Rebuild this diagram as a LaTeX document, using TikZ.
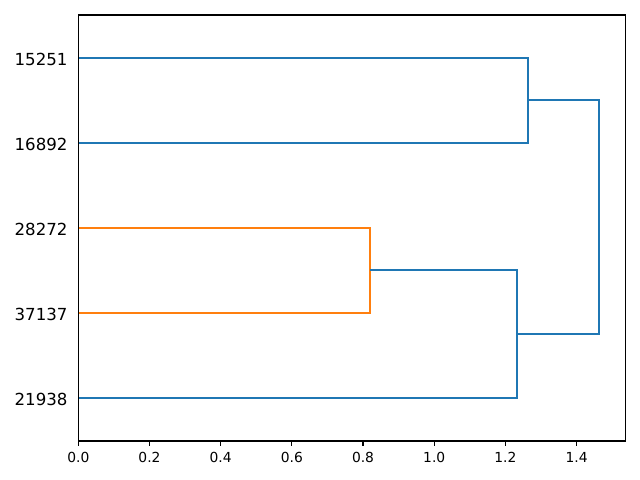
\documentclass[tikz,border=0pt]{standalone}
\usepackage{fontspec}
\setmainfont{DejaVu Sans}
\usetikzlibrary{positioning}
\definecolor{linkblue}{HTML}{1F77B4}
\definecolor{linkorange}{HTML}{FF7F0E}

\begin{document}
\begin{tikzpicture}[x=0.01in,y=-0.01in,
    link/.style={line width=1.5pt, linkblue},
    leaflabel/.style={anchor=east, inner sep=0pt, font=\fontsize{12}{14}\selectfont},
    ticklabel/.style={anchor=north, inner sep=0pt, font=\fontsize{10}{12}\selectfont}]
  \useasboundingbox (0,0) rectangle (640,480);
  \begin{scope}[shift={(78.3,0)}, x=3.557in]
    \coordinate (s15251) at (0,58);
    \coordinate (s16892) at (0,143);
    \coordinate (s28272) at (0,228);
    \coordinate (s37137) at (0,313);
    \coordinate (s21938) at (0,398);
    \coordinate (j1) at (1.2643,100);
    \coordinate (j2) at (0.8201,270);
    \coordinate (j3) at (1.2333,334);
    \coordinate (j4) at (1.4639,217);
    \foreach \leaf in {15251,16892,28272,37137,21938}
      \node[leaflabel] (l\leaf) at ([xshift=-10.5*0.01in, yshift=-1*0.01in]s\leaf) {\leaf};
    \draw[link] (s15251) -| (j1) |- (s16892);
    \draw[link, linkorange] (s28272) -| (j2) |- (s37137);
    \draw[link] (j2) -| (j3) |- (s21938);
    \draw[link] (j1) -| (j4) |- (j3);
    \draw[line width=0.8pt] (0,15) rectangle (1.538,441);
    \foreach \t in {0.0,0.2,0.4,0.6,0.8,1.0,1.2,1.4} {
      \draw[line width=0.8pt] (\t,441) -- (\t,445.9);
      \node[ticklabel] (t\t) at (\t,451.7) {\t};
    }
  \end{scope}
\end{tikzpicture}
\end{document}
